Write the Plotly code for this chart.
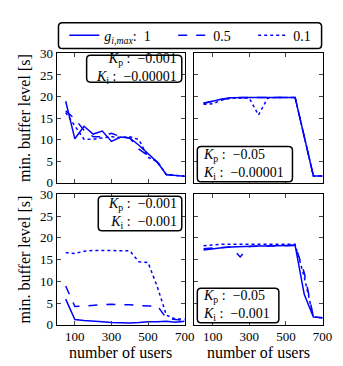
import plotly.graph_objects as go
from plotly.subplots import make_subplots

W, H = 343, 366

users = [50, 100, 150, 200, 250, 300, 350, 400, 450, 500, 550, 600, 650, 700]

# top-left: Kp -0.001, Ki -0.00001
tl_g1 = [18.9, 10.2, 13.1, 11.3, 12.0, 9.6, 10.6, 10.4, 8.7, 6.7, 4.8, 1.9, 1.7, 1.5]
tl_g05 = [16.7, 14.8, 12.2, 10.7, 10.7, 11.5, 10.7, 10.4, 7.8, 6.4, 4.8, 1.9, 1.7, 1.5]
tl_g01 = [16.3, 13.3, 10.1, 10.1, 10.4, 10.7, 10.5, 10.7, 10.0, 5.9, 5.0, 1.9, 1.7, 1.5]

# top-right: Kp -0.05, Ki -0.00001
tr_g1 = [18.4, 18.9, 19.4, 19.7, 19.8, 19.8, 19.8, 19.8, 19.8, 19.8, 19.8, 10.7, 1.6, 1.6]
tr_g05 = [18.5, 18.9, 19.4, 19.7, 19.8, 19.8, 19.8, 19.8, 19.8, 19.8, 19.8, 10.7, 1.6, 1.6]
tr_g01 = [18.2, 18.3, 19.2, 19.6, 19.7, 19.6, 15.7, 19.6, 19.8, 19.8, 19.8, 10.7, 1.6, 1.6]

# bottom-left: Kp -0.001, Ki -0.001
bl_g1 = [5.9, 1.2, 1.0, 0.9, 0.7, 0.5, 0.4, 0.4, 0.5, 0.7, 0.7, 0.8, 0.6, 0.8]
bl_g05 = [8.9, 4.2, 4.3, 4.5, 4.6, 4.7, 4.7, 4.6, 4.4, 4.3, 4.4, 1.5, 1.2, 1.0]
bl_g01 = [16.6, 16.4, 16.9, 17.1, 17.1, 17.1, 17.1, 17.0, 14.5, 14.3, 8.8, 2.2, 1.3, 1.3]

# bottom-right: Kp -0.05, Ki -0.001
br_g1 = [17.2, 17.5, 17.7, 17.9, 18.0, 18.0, 18.1, 18.1, 18.2, 18.2, 18.3, 7.0, 1.8, 1.6]
br_g05 = [17.5, 17.7, 17.8, 17.9, 15.6, 18.0, 18.1, 18.1, 18.2, 18.2, 18.3, 12.0, 1.8, 1.6]
br_g01 = [18.2, 18.4, 18.5, 18.5, 18.5, 18.5, 18.5, 18.5, 18.5, 18.5, 18.5, 11.0, 1.8, 1.6]

panels = [
    (1, 1, tl_g1, tl_g05, tl_g01),
    (1, 2, tr_g1, tr_g05, tr_g01),
    (2, 1, bl_g1, bl_g05, bl_g01),
    (2, 2, br_g1, br_g05, br_g01),
]
gains = ["<i>g</i><sub><i>i,max</i></sub>:  1" + "&nbsp;" * 5, "0.5" + "&nbsp;" * 5, "0.1"]
dashes = ["solid", "dash", "dot"]

FONT = "Liberation Serif"
BLUE = "#0000ff"


def px(x):
    return x / W


def py(y):
    return 1 - y / H


fig = make_subplots(2, 2)

for k, (r, c, a, b, d) in enumerate(panels):
    for name, dash, vals in zip(gains, dashes, [a, b, d]):
        fig.add_trace(
            go.Scatter(
                x=users,
                y=vals,
                mode="lines",
                name=name,
                legendgroup=name,
                showlegend=(k == 0),
                line=dict(color=BLUE, width=1.5, dash=dash),
            ),
            r,
            c,
        )

xdom = {1: [px(50), px(182)], 2: [px(192), px(324)]}
ydom = {1: [py(175), py(40)], 2: [py(323), py(187)]}

for r in (1, 2):
    for c in (1, 2):
        fig.update_xaxes(
            domain=xdom[c], range=[0, 700], tickvals=[100, 300, 500, 700],
            ticks="inside", ticklen=4, mirror="ticks", showline=True,
            linecolor="black", linewidth=1, showgrid=False, zeroline=False,
            showticklabels=(r == 2),
            title=dict(text="number of users" if r == 2 else None, standoff=3),
            row=r, col=c,
        )
        fig.update_yaxes(
            domain=ydom[r], range=[0, 30], tickvals=[0, 5, 10, 15, 20, 25, 30],
            ticks="inside", ticklen=4, mirror="ticks", showline=True,
            linecolor="black", linewidth=1, showgrid=False, zeroline=False,
            showticklabels=(c == 1),
            title=dict(text="min. buffer level [s]" if c == 1 else None, standoff=5),
            row=r, col=c,
        )


def rounded_box(x0, y0, x1, y1, rad=4):
    rx, ry = rad / W, rad / H
    X0, X1 = px(x0), px(x1)
    Y0, Y1 = py(y0), py(y1)  # Y0 top, Y1 bottom
    path = (
        f"M{X0 + rx},{Y0} L{X1 - rx},{Y0} Q{X1},{Y0} {X1},{Y0 - ry} "
        f"L{X1},{Y1 + ry} Q{X1},{Y1} {X1 - rx},{Y1} "
        f"L{X0 + rx},{Y1} Q{X0},{Y1} {X0},{Y1 + ry} "
        f"L{X0},{Y0 - ry} Q{X0},{Y0} {X0 + rx},{Y0} Z"
    )
    fig.add_shape(type="path", path=path, xref="paper", yref="paper",
                  line=dict(color="black", width=1.5), fillcolor="white",
                  layer="above")


# legend frame
rounded_box(52, 8, 323, 35)

boxes = [
    ((81, 42, 179, 70), "-0.001", "-0.00001", "right"),
    ((195, 137, 293, 174), "-0.05", "-0.00001", "left"),
    ((93, 189, 179, 225), "-0.001", "-0.001", "right"),
    ((195, 285, 279, 321), "-0.05", "-0.001", "left"),
]
for (x0, y0, x1, y1), kp, ki, al in boxes:
    rounded_box(x0, y0, x1, y1)
    txt = (f"<i>K</i><sub>p</sub> :  {kp.replace('-', '−')}<br>"
           f"<i>K</i><sub>i</sub> :  {ki.replace('-', '−')}")
    fig.add_annotation(
        x=px(x1 - 3) if al == "right" else px(x0 + 4),
        y=py((y0 + y1) / 2), xref="paper", yref="paper",
        xanchor=al, yanchor="middle", align=al, showarrow=False,
        text=txt, font=dict(family=FONT, size=14, color="black"),
    )

fig.update_layout(
    width=W, height=H,
    margin=dict(l=0, r=0, t=0, b=0),
    paper_bgcolor="white", plot_bgcolor="white",
    font=dict(family=FONT, size=13, color="black"),
    showlegend=True,
    legend=dict(
        orientation="h", x=px(58), y=py(21.5), xanchor="left", yanchor="middle",
        bgcolor="rgba(0,0,0,0)", borderwidth=0, font=dict(size=14),
        itemwidth=30, tracegroupgap=0,
    ),
)

fig.write_html("out.html")
